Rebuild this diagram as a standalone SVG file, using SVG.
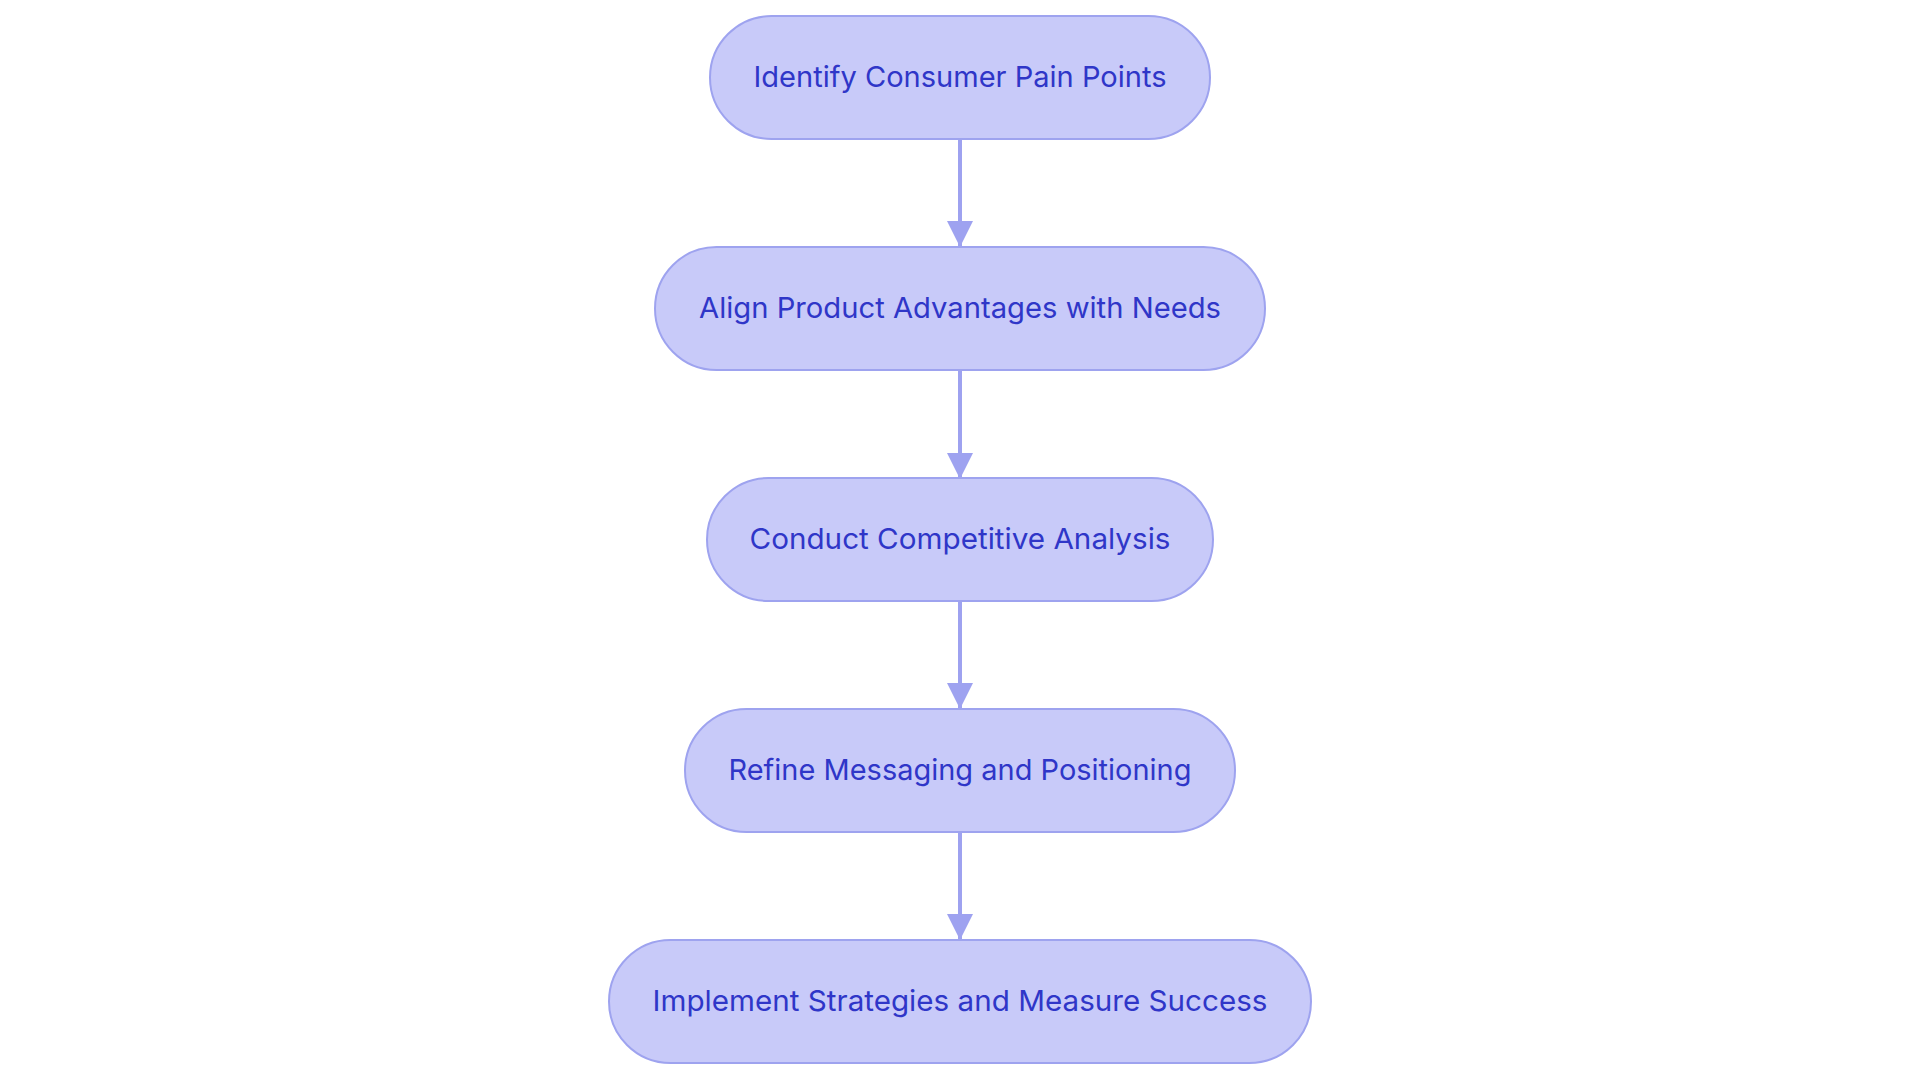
<svg xmlns="http://www.w3.org/2000/svg" width="1920" height="1083" viewBox="0 0 1920 1083">
<style>
.node rect{fill:#c8caf9;stroke:#9ea3ef;stroke-width:2}
.node text{font-family:Inter,"Open Sans","Liberation Sans",sans-serif;font-size:29px;fill:#2f36c8;text-anchor:middle}
.edge{stroke:#9ea2f0;stroke-width:4;fill:none}
</style>
<defs>
<marker id="ah" markerUnits="userSpaceOnUse" viewBox="0 0 26 26" refX="26" refY="13" markerWidth="26" markerHeight="26" orient="auto">
<path d="M0,0 L26,13 L0,26 Z" fill="#9ea2f0"/>
</marker>
</defs>
<rect width="1920" height="1083" fill="#ffffff"/>
<g id="connectors">
<path class="edge" d="M960,139 L960,247" marker-end="url(#ah)"/>
<path class="edge" d="M960,370 L960,479" marker-end="url(#ah)"/>
<path class="edge" d="M960,600 L960,709" marker-end="url(#ah)"/>
<path class="edge" d="M960,831 L960,940" marker-end="url(#ah)"/>
</g>
<g id="node1" class="node"><rect x="710" y="16" width="500" height="123" rx="61.5"/><text x="960" y="87" textLength="413" lengthAdjust="spacingAndGlyphs">Identify Consumer Pain Points</text></g>
<g id="node2" class="node"><rect x="655" y="247" width="610" height="123" rx="61.5"/><text x="960" y="318" textLength="522" lengthAdjust="spacingAndGlyphs">Align Product Advantages with Needs</text></g>
<g id="node3" class="node"><rect x="707" y="478" width="506" height="123" rx="61.5"/><text x="960" y="549" textLength="421" lengthAdjust="spacingAndGlyphs">Conduct Competitive Analysis</text></g>
<g id="node4" class="node"><rect x="685" y="709" width="550" height="123" rx="61.5"/><text x="960" y="780" textLength="463" lengthAdjust="spacingAndGlyphs">Refine Messaging and Positioning</text></g>
<g id="node5" class="node"><rect x="609" y="940" width="702" height="123" rx="61.5"/><text x="960" y="1011" textLength="615" lengthAdjust="spacingAndGlyphs">Implement Strategies and Measure Success</text></g>
</svg>
